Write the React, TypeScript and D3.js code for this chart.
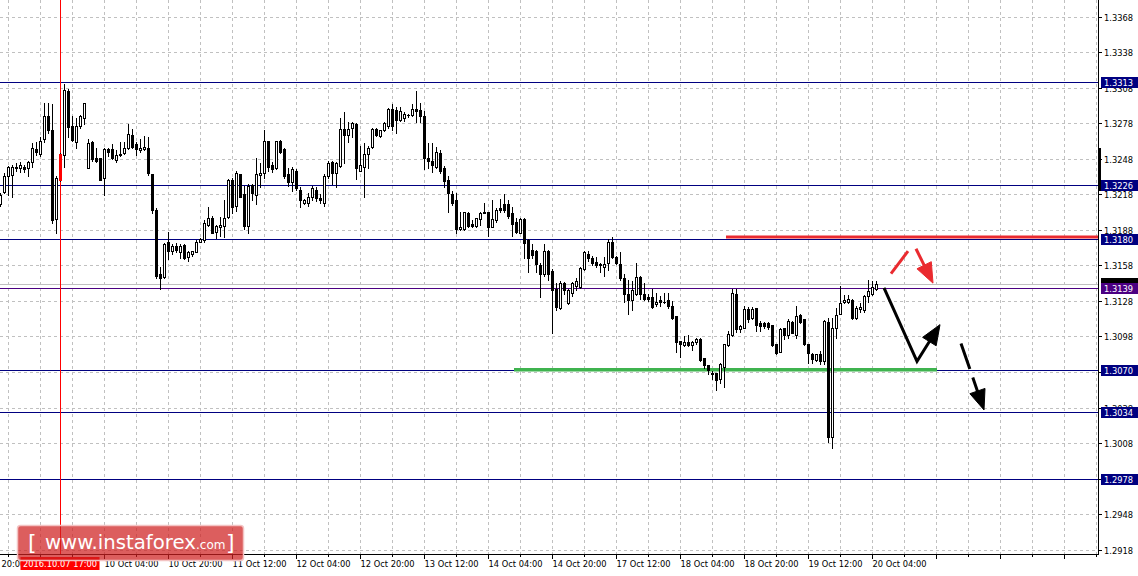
import React, { useEffect } from "react";
import * as d3 from "d3";

// ---------- DATA (GBP/USD H1) ----------
const opens = [
  1.3210, 1.3220, 1.3233, 1.3234, 1.3240, 1.3240, 1.3241, 1.3240, 1.3245, 1.3256,
  1.3252, 1.3265, 1.3284, 1.3272, 1.3197, 1.3230, 1.3251, 1.3305, 1.3276, 1.3262,
  1.3276, 1.3282, 1.3240, 1.3262, 1.3249, 1.3249, 1.3232, 1.3256, 1.3256, 1.3247,
  1.3252, 1.3253, 1.3257, 1.3268, 1.3260, 1.3255, 1.3256, 1.3257, 1.3235, 1.3205,
  1.3151, 1.3148, 1.3178, 1.3170, 1.3174, 1.3169, 1.3175, 1.3165, 1.3168, 1.3169,
  1.3178, 1.3179, 1.3192, 1.3198, 1.3186, 1.3190, 1.3191, 1.3199, 1.3230, 1.3208,
  1.3235, 1.3218, 1.3191, 1.3226, 1.3217, 1.3234, 1.3236, 1.3263, 1.3243, 1.3240,
  1.3263, 1.3256, 1.3235, 1.3228, 1.3238, 1.3222, 1.3211, 1.3211, 1.3216, 1.3222,
  1.3215, 1.3211, 1.3233, 1.3245, 1.3236, 1.3242, 1.3273, 1.3268, 1.3274, 1.3277,
  1.3238, 1.3241, 1.3252, 1.3258, 1.3273, 1.3267, 1.3272, 1.3276, 1.3290, 1.3289,
  1.3281, 1.3282, 1.3285, 1.3285, 1.3290, 1.3289, 1.3284, 1.3249, 1.3246, 1.3241,
  1.3253, 1.3240, 1.3230, 1.3218, 1.3213, 1.3189, 1.3189, 1.3202, 1.3193, 1.3191,
  1.3197, 1.3203, 1.3203, 1.3190, 1.3196, 1.3206, 1.3210, 1.3210, 1.3202, 1.3195,
  1.3185, 1.3197, 1.3179, 1.3171, 1.3170, 1.3158, 1.3151, 1.3170, 1.3153, 1.3138,
  1.3122, 1.3143, 1.3126, 1.3135, 1.3141, 1.3140, 1.3155, 1.3168, 1.3164, 1.3161,
  1.3159, 1.3157, 1.3160, 1.3178, 1.3165, 1.3159, 1.3147, 1.3134, 1.3129, 1.3134,
  1.3148, 1.3134, 1.3131, 1.3131, 1.3125, 1.3129, 1.3127, 1.3129, 1.3124, 1.3115,
  1.3094, 1.3091, 1.3093, 1.3091, 1.3093, 1.3096, 1.3080, 1.3074, 1.3067, 1.3067,
  1.3062, 1.3072, 1.3091, 1.3099, 1.3134, 1.3104, 1.3105, 1.3121, 1.3114, 1.3122,
  1.3109, 1.3109, 1.3109, 1.3108, 1.3092, 1.3085, 1.3105, 1.3099, 1.3110, 1.3099,
  1.3116, 1.3113, 1.3092, 1.3083, 1.3078, 1.3083, 1.3077, 1.3110, 1.3013, 1.3105,
  1.3117, 1.3127, 1.3127, 1.3129, 1.3114, 1.3121, 1.3120, 1.3132, 1.3134, 1.3138,
];

const highs = [
  1.3219, 1.3236, 1.3242, 1.3243, 1.3244, 1.3245, 1.3243, 1.3246, 1.3261, 1.3262,
  1.3266, 1.3295, 1.3295, 1.3294, 1.3233, 1.3253, 1.3311, 1.3307, 1.3284, 1.3282,
  1.3285, 1.3295, 1.3265, 1.3263, 1.3257, 1.3249, 1.3257, 1.3257, 1.3260, 1.3255,
  1.3262, 1.3262, 1.3277, 1.3273, 1.3262, 1.3265, 1.3267, 1.3266, 1.3235, 1.3206,
  1.3157, 1.3177, 1.3186, 1.3176, 1.3177, 1.3176, 1.3176, 1.3170, 1.3170, 1.3179,
  1.3181, 1.3196, 1.3207, 1.3200, 1.3192, 1.3199, 1.3213, 1.3231, 1.3232, 1.3238,
  1.3235, 1.3225, 1.3227, 1.3227, 1.3249, 1.3244, 1.3272, 1.3263, 1.3245, 1.3263,
  1.3264, 1.3257, 1.3240, 1.3241, 1.3239, 1.3224, 1.3214, 1.3219, 1.3225, 1.3224,
  1.3218, 1.3235, 1.3246, 1.3246, 1.3245, 1.3282, 1.3287, 1.3279, 1.3279, 1.3278,
  1.3259, 1.3261, 1.3259, 1.3274, 1.3274, 1.3272, 1.3279, 1.3291, 1.3294, 1.3292,
  1.3292, 1.3287, 1.3286, 1.3294, 1.3305, 1.3295, 1.3288, 1.3261, 1.3261, 1.3258,
  1.3255, 1.3242, 1.3233, 1.3221, 1.3219, 1.3203, 1.3203, 1.3203, 1.3196, 1.3198,
  1.3203, 1.3211, 1.3203, 1.3213, 1.3206, 1.3214, 1.3218, 1.3213, 1.3207, 1.3198,
  1.3198, 1.3198, 1.3180, 1.3176, 1.3171, 1.3160, 1.3176, 1.3171, 1.3155, 1.3143,
  1.3145, 1.3144, 1.3138, 1.3144, 1.3147, 1.3157, 1.3170, 1.3170, 1.3166, 1.3165,
  1.3160, 1.3165, 1.3180, 1.3182, 1.3166, 1.3169, 1.3151, 1.3146, 1.3145, 1.3160,
  1.3149, 1.3143, 1.3134, 1.3138, 1.3135, 1.3132, 1.3135, 1.3135, 1.3128, 1.3115,
  1.3094, 1.3098, 1.3099, 1.3094, 1.3097, 1.3097, 1.3080, 1.3074, 1.3069, 1.3067,
  1.3076, 1.3092, 1.3103, 1.3138, 1.3138, 1.3108, 1.3124, 1.3123, 1.3123, 1.3122,
  1.3111, 1.3110, 1.3110, 1.3108, 1.3092, 1.3105, 1.3105, 1.3113, 1.3111, 1.3124,
  1.3117, 1.3113, 1.3092, 1.3084, 1.3083, 1.3086, 1.3112, 1.3114, 1.3114, 1.3122,
  1.3141, 1.3133, 1.3133, 1.3130, 1.3124, 1.3126, 1.3133, 1.3146, 1.3145, 1.3145,
];

const lows = [
  1.3208, 1.3219, 1.3217, 1.3216, 1.3238, 1.3237, 1.3237, 1.3233, 1.3241, 1.3251,
  1.3250, 1.3262, 1.3270, 1.3194, 1.3185, 1.3229, 1.3241, 1.3266, 1.3263, 1.3257,
  1.3274, 1.3277, 1.3240, 1.3246, 1.3245, 1.3230, 1.3217, 1.3250, 1.3248, 1.3245,
  1.3250, 1.3252, 1.3256, 1.3257, 1.3251, 1.3254, 1.3255, 1.3234, 1.3202, 1.3147,
  1.3138, 1.3147, 1.3163, 1.3168, 1.3169, 1.3164, 1.3163, 1.3162, 1.3166, 1.3169,
  1.3178, 1.3178, 1.3191, 1.3185, 1.3181, 1.3183, 1.3182, 1.3198, 1.3202, 1.3204,
  1.3216, 1.3189, 1.3185, 1.3213, 1.3210, 1.3224, 1.3232, 1.3238, 1.3237, 1.3239,
  1.3253, 1.3232, 1.3225, 1.3221, 1.3222, 1.3207, 1.3210, 1.3208, 1.3213, 1.3212,
  1.3211, 1.3208, 1.3232, 1.3227, 1.3224, 1.3241, 1.3244, 1.3262, 1.3266, 1.3231,
  1.3238, 1.3216, 1.3240, 1.3257, 1.3267, 1.3266, 1.3271, 1.3274, 1.3272, 1.3270,
  1.3280, 1.3280, 1.3283, 1.3284, 1.3279, 1.3279, 1.3239, 1.3240, 1.3237, 1.3240,
  1.3236, 1.3224, 1.3203, 1.3209, 1.3185, 1.3188, 1.3188, 1.3190, 1.3190, 1.3190,
  1.3192, 1.3202, 1.3183, 1.3190, 1.3195, 1.3203, 1.3203, 1.3198, 1.3183, 1.3185,
  1.3185, 1.3164, 1.3152, 1.3164, 1.3152, 1.3131, 1.3149, 1.3146, 1.3101, 1.3120,
  1.3121, 1.3134, 1.3125, 1.3132, 1.3137, 1.3139, 1.3154, 1.3162, 1.3158, 1.3157,
  1.3152, 1.3149, 1.3154, 1.3164, 1.3159, 1.3146, 1.3127, 1.3117, 1.3120, 1.3133,
  1.3130, 1.3129, 1.3128, 1.3122, 1.3124, 1.3124, 1.3126, 1.3122, 1.3113, 1.3085,
  1.3081, 1.3090, 1.3090, 1.3087, 1.3092, 1.3077, 1.3071, 1.3066, 1.3062, 1.3053,
  1.3059, 1.3055, 1.3090, 1.3098, 1.3102, 1.3102, 1.3105, 1.3110, 1.3113, 1.3103,
  1.3103, 1.3105, 1.3104, 1.3090, 1.3083, 1.3085, 1.3096, 1.3097, 1.3101, 1.3097,
  1.3109, 1.3091, 1.3076, 1.3076, 1.3077, 1.3075, 1.3075, 1.3009, 1.3004, 1.3097,
  1.3117, 1.3126, 1.3126, 1.3113, 1.3113, 1.3119, 1.3119, 1.3127, 1.3133, 1.3137,
];

const closes = [
  1.3217, 1.3233, 1.3241, 1.3241, 1.3241, 1.3243, 1.3239, 1.3245, 1.3257, 1.3254,
  1.3263, 1.3284, 1.3272, 1.3196, 1.3232, 1.3252, 1.3306, 1.3275, 1.3264, 1.3276,
  1.3284, 1.3295, 1.3261, 1.3248, 1.3246, 1.3230, 1.3256, 1.3254, 1.3249, 1.3251,
  1.3251, 1.3257, 1.3269, 1.3258, 1.3256, 1.3257, 1.3258, 1.3236, 1.3205, 1.3149,
  1.3147, 1.3176, 1.3170, 1.3174, 1.3171, 1.3174, 1.3164, 1.3169, 1.3170, 1.3178,
  1.3180, 1.3194, 1.3198, 1.3185, 1.3191, 1.3192, 1.3198, 1.3230, 1.3207, 1.3236,
  1.3216, 1.3191, 1.3225, 1.3219, 1.3235, 1.3236, 1.3263, 1.3241, 1.3239, 1.3263,
  1.3254, 1.3233, 1.3228, 1.3239, 1.3223, 1.3213, 1.3213, 1.3216, 1.3223, 1.3215,
  1.3213, 1.3233, 1.3244, 1.3236, 1.3244, 1.3273, 1.3268, 1.3273, 1.3278, 1.3240,
  1.3243, 1.3252, 1.3257, 1.3273, 1.3268, 1.3272, 1.3278, 1.3290, 1.3276, 1.3281,
  1.3288, 1.3286, 1.3285, 1.3290, 1.3288, 1.3284, 1.3249, 1.3246, 1.3243, 1.3254,
  1.3238, 1.3229, 1.3219, 1.3211, 1.3189, 1.3190, 1.3203, 1.3191, 1.3191, 1.3198,
  1.3202, 1.3202, 1.3190, 1.3197, 1.3205, 1.3205, 1.3205, 1.3200, 1.3193, 1.3186,
  1.3197, 1.3177, 1.3164, 1.3167, 1.3159, 1.3151, 1.3170, 1.3151, 1.3137, 1.3123,
  1.3143, 1.3137, 1.3137, 1.3143, 1.3145, 1.3156, 1.3169, 1.3164, 1.3160, 1.3158,
  1.3158, 1.3159, 1.3178, 1.3165, 1.3160, 1.3147, 1.3134, 1.3129, 1.3137, 1.3148,
  1.3134, 1.3130, 1.3130, 1.3123, 1.3127, 1.3127, 1.3127, 1.3124, 1.3114, 1.3093,
  1.3092, 1.3093, 1.3091, 1.3093, 1.3096, 1.3078, 1.3074, 1.3070, 1.3066, 1.3061,
  1.3075, 1.3092, 1.3100, 1.3135, 1.3104, 1.3107, 1.3121, 1.3113, 1.3121, 1.3108,
  1.3107, 1.3107, 1.3106, 1.3091, 1.3084, 1.3104, 1.3099, 1.3111, 1.3101, 1.3115,
  1.3110, 1.3092, 1.3084, 1.3079, 1.3083, 1.3077, 1.3111, 1.3013, 1.3105, 1.3116,
  1.3126, 1.3129, 1.3130, 1.3114, 1.3122, 1.3123, 1.3132, 1.3136, 1.3140, 1.3142,
];

// time axis labels (every 16 H1 bars, first one 6 bars before the first drawn bar)
const timeLabels = [
  "6 Oct 20:00", "7 Oct 12:00", "10 Oct 04:00", "10 Oct 20:00", "11 Oct 12:00",
  "12 Oct 04:00", "12 Oct 20:00", "13 Oct 12:00", "14 Oct 04:00", "14 Oct 20:00",
  "17 Oct 12:00", "18 Oct 04:00", "18 Oct 20:00", "19 Oct 12:00", "20 Oct 04:00",
];
const firstLabelBar = -6;
const barsPerLabel = 16;
const barsPerGrid = 8;

const priceTicks = [
  1.3368, 1.3338, 1.3308, 1.3278, 1.3248, 1.3218, 1.3188, 1.3158,
  1.3128, 1.3098, 1.3068, 1.3038, 1.3008, 1.2978, 1.2948, 1.2918,
];

const levelPrices = [1.3313, 1.3226, 1.3180, 1.3139, 1.3070, 1.3034, 1.2978];
const pivotLevel = 1.3139;

const markedBar = 15;
const markedLabel = "2016.10.07 17:00";

// resistance (red) and support (green) segments: [startBar, endBar, price]
const resistanceSeg = [181.5, 274.5, 1.3182];
const supportSeg = [128.5, 234.25, 1.3070];

// forecast arrows: points as [bar, price]
const redUp = [[222.75, 1.3151], [227, 1.3170]];
const redDown = [[229, 1.3172], [233.25, 1.3143]];
const blackMain = [[221, 1.3139], [229.25, 1.3077], [235, 1.3108]];
const blackDashed = [[240.25, 1.3092], [246, 1.3036]];

// spread marker on the price axis
const axisMarker = [1.3257, 1.3221];

// ---------- LAYOUT ----------
const W = 1138;
const H = 576;
const AXIS_X = 1098;
const AXIS_Y = 554;
const FONT = "'DejaVu Sans', Tahoma, Verdana, sans-serif";
const FS = 8.3;
const MARK_BOX = [20.5, 99.5];

const x = d3.scaleLinear().domain([0, 274.5]).range([0, AXIS_X]);
const y = d3.scaleLinear().domain([1.2918, 1.3368]).range([549.8, 16.5]);
const ry = (p: number) => Math.round(y(p));

function arrowPieces(pts: number[][], color: string, withHead: boolean, dash?: string, key?: string) {
  const pp = pts.map((p) => [x(p[0]), y(p[1])]);
  const n = pp.length;
  const [x2, y2] = pp[n - 1];
  const [x1, y1] = pp[n - 2];
  const len = Math.hypot(x2 - x1, y2 - y1);
  const ux = (x2 - x1) / len;
  const uy = (y2 - y1) / len;
  const headLen = 20;
  const half = 8;
  const shaft = pp.slice();
  if (withHead) shaft[n - 1] = [x2 - ux * (headLen - 3), y2 - uy * (headLen - 3)];
  const line = d3.line()(shaft as [number, number][]) || "";
  const bx = x2 - ux * headLen;
  const by = y2 - uy * headLen;
  const head = `M${x2},${y2}L${bx - uy * half},${by + ux * half}L${bx + uy * half},${by - ux * half}Z`;
  return (
    <g key={key}>
      <path d={line} fill="none" stroke={color} strokeWidth={3} strokeDasharray={dash} strokeLinejoin="miter" />
      {withHead && <path d={head} fill={color} stroke={color} strokeWidth={1} strokeLinejoin="miter" />}
    </g>
  );
}

export default function App() {
  useEffect(() => {
    document.body.style.margin = "0";
  }, []);

  const nBars = closes.length;
  const lastClose = closes[nBars - 1];

  // vertical grid
  const gridBars: number[] = [];
  for (let b = firstLabelBar; x(b) < AXIS_X; b += barsPerGrid) gridBars.push(b);

  const candles = d3.range(nBars).map((i) => {
    const cx = Math.round(x(i));
    const o = opens[i], c = closes[i], h = highs[i], l = lows[i];
    const yH = ry(h), yL = ry(l), yO = ry(o), yC = ry(c);
    const wick = <line x1={cx + 0.5} x2={cx + 0.5} y1={yH} y2={yL + 1} stroke="#000" strokeWidth={1} />;
    let body;
    if (i === markedBar) {
      const t = Math.min(yO, yC), b = Math.max(yO, yC);
      body = <rect x={cx - 1} y={t} width={3} height={b - t + 1} fill="#ff0000" />;
    } else if (c > o && yO - yC >= 1) {
      body = <rect x={cx - 0.5} y={yC + 0.5} width={2} height={yO - yC} fill="#fff" stroke="#000" strokeWidth={1} />;
    } else if (c < o && yC - yO >= 1) {
      body = <rect x={cx - 1} y={yO} width={3} height={yC - yO + 1} fill="#000" />;
    } else {
      body = <rect x={cx - 1} y={yO} width={3} height={1} fill="#000" />;
    }
    return (
      <g key={i}>
        {wick}
        {body}
      </g>
    );
  });

  const markedX = Math.round(x(markedBar)) + 0.5;

  // time labels that are hidden behind the marked-bar label are not drawn
  const visibleTimeLabels = timeLabels
    .map((t, i) => ({ t, lx: Math.round(x(firstLabelBar + i * barsPerLabel)) + 0.5 }))
    .filter((d) => !(d.lx > MARK_BOX[0] && d.lx < MARK_BOX[1]));

  return (
    <div style={{ position: "absolute", left: 0, top: 0, width: W, height: H, background: "#fff" }}>
      <svg width={W} height={H} style={{ display: "block" }} fontFamily={FONT}>
        <rect x={0} y={0} width={W} height={H} fill="#fff" />

        {/* grid */}
        <g stroke="#c0c0c0" strokeWidth={1} strokeDasharray="3,3" fill="none">
          {priceTicks.map((p) => (
            <line key={"h" + p} x1={0} x2={AXIS_X} y1={ry(p) + 0.5} y2={ry(p) + 0.5} />
          ))}
          {gridBars.filter((b) => x(b) > 0).map((b) => (
            <line key={"v" + b} x1={Math.round(x(b)) + 0.5} x2={Math.round(x(b)) + 0.5} y1={0} y2={AXIS_Y} />
          ))}
        </g>

        {/* horizontal levels */}
        {levelPrices.map((p) => (
          <line key={"lv" + p} x1={0} x2={AXIS_X} y1={ry(p) + 0.5} y2={ry(p) + 0.5}
            stroke={p === pivotLevel ? "#4b0082" : "#000080"} strokeWidth={1} />
        ))}

        {/* bid line */}
        <line x1={0} x2={AXIS_X} y1={ry(lastClose) + 0.5} y2={ry(lastClose) + 0.5} stroke="#c0c0c0" strokeWidth={1} />

        {/* resistance & support */}
        <line x1={x(resistanceSeg[0])} x2={x(resistanceSeg[1])} y1={y(resistanceSeg[2])} y2={y(resistanceSeg[2])}
          stroke="#ea2a2f" strokeWidth={3} />
        <line x1={x(supportSeg[0])} x2={x(supportSeg[1])} y1={y(supportSeg[2])} y2={y(supportSeg[2])}
          stroke="#3fb34f" strokeWidth={3.5} />

        {/* marked bar vertical line */}
        <line x1={markedX} x2={markedX} y1={0} y2={AXIS_Y} stroke="#ff0000" strokeWidth={1} />

        {/* candles */}
        {candles}

        {/* arrows */}
        {arrowPieces(redUp, "#ea2a2f", false, undefined, "a1")}
        {arrowPieces(redDown, "#ea2a2f", true, undefined, "a2")}
        {arrowPieces(blackMain, "#000", true, undefined, "a3")}
        {arrowPieces(blackDashed, "#000", true, "27,9", "a4")}

        {/* axes */}
        <line x1={AXIS_X + 0.5} x2={AXIS_X + 0.5} y1={0} y2={AXIS_Y + 1} stroke="#000" />
        <line x1={0} x2={AXIS_X + 1} y1={AXIS_Y + 0.5} y2={AXIS_Y + 0.5} stroke="#000" />
        <rect x={AXIS_X} y={ry(axisMarker[0])} width={3} height={ry(axisMarker[1]) - ry(axisMarker[0])} fill="#000" />

        {/* price axis labels */}
        {priceTicks.map((p) => (
          <g key={"pt" + p}>
            <line x1={AXIS_X + 1} x2={AXIS_X + 4} y1={ry(p) + 0.5} y2={ry(p) + 0.5} stroke="#000" />
            <text x={AXIS_X + 6} y={ry(p) + 3.5} fontSize={FS} fill="#000">{p.toFixed(4)}</text>
          </g>
        ))}

        {/* time axis ticks & labels */}
        {gridBars.map((b) => {
          const tx = Math.round(x(b)) + 0.5;
          const major = (b - firstLabelBar) % barsPerLabel === 0;
          return <line key={"tt" + b} x1={tx} x2={tx} y1={AXIS_Y + 1} y2={AXIS_Y + (major ? 5 : 3)} stroke="#000" />;
        })}
        {visibleTimeLabels.map((d) => (
          <text key={"tl" + d.t} x={d.lx} y={567} fontSize={FS} fill="#000">
            {d.t}
          </text>
        ))}

        {/* marked bar time label */}
        <rect x={MARK_BOX[0]} y={557} width={MARK_BOX[1] - MARK_BOX[0]} height={13} fill="#ff0000" />
        <text x={23} y={567} fontSize={FS} fill="#fff">{markedLabel}</text>

        {/* current price label (behind pivot label) */}
        <rect x={AXIS_X + 3} y={ry(lastClose) - 6} width={37} height={11} fill="#000" />

        {/* level labels */}
        {levelPrices.map((p) => (
          <g key={"ll" + p}>
            <rect x={AXIS_X + 3} y={ry(p) - 5} width={37} height={11} fill={p === pivotLevel ? "#4b0082" : "#000080"} />
            <text x={AXIS_X + 6} y={ry(p) + 3.5} fontSize={FS} fill="#fff">{p.toFixed(4)}</text>
          </g>
        ))}

        {/* logo */}
        <g>
          <rect x={17.5} y={525.5} width={226} height={35} rx={3} fill="rgba(206,32,32,0.72)" stroke="#f3c3c3" strokeWidth={1.5} />
          <text x={28} y={550} fontSize={22} fill="#fff" fontFamily={FONT}>[</text>
          <text x={45} y={548.5} fontSize={19} fill="#fff" fontFamily={FONT} textLength={151} lengthAdjust="spacingAndGlyphs">www.instaforex</text>
          <text x={196} y={548.5} fontSize={12} fill="#fff" fontFamily={FONT}>.com</text>
          <text x={226} y={550} fontSize={22} fill="#fff" fontFamily={FONT}>]</text>
        </g>
      </svg>
    </div>
  );
}
